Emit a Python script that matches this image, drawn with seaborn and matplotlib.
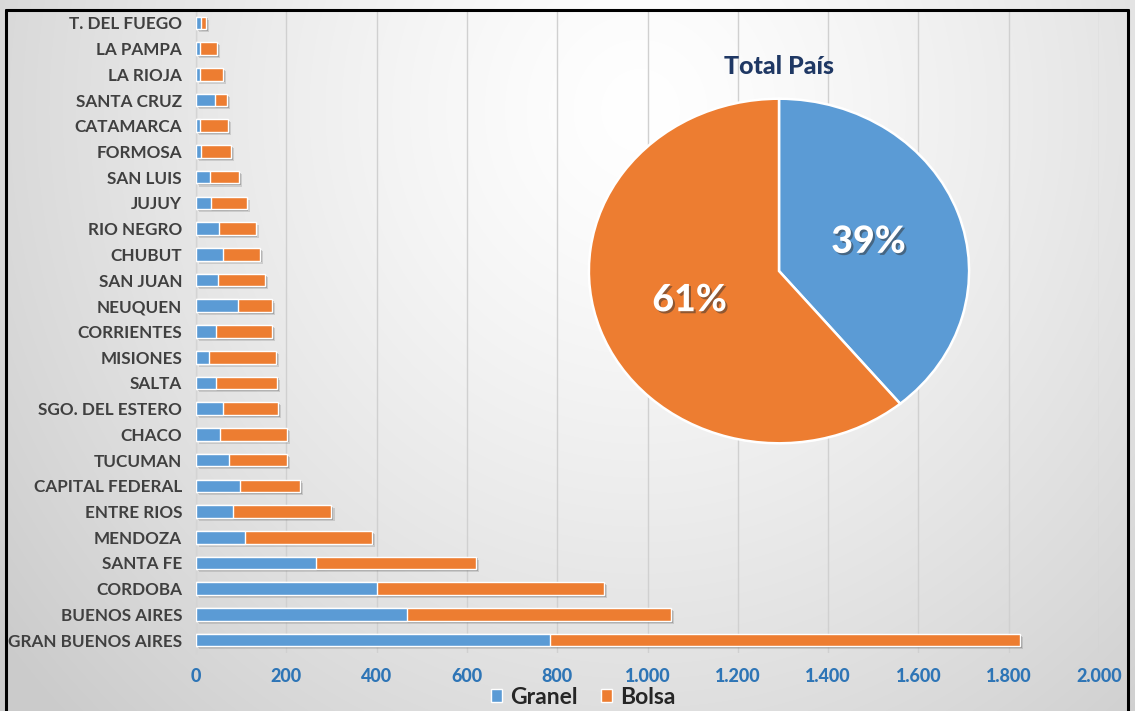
import numpy as np
import pandas as pd
import matplotlib
matplotlib.use("Agg")
import matplotlib.pyplot as plt
import matplotlib.patheffects as pe
from matplotlib.patches import Patch
from matplotlib.lines import Line2D
import seaborn as sns

# Provinces, top to bottom
provincias = [
    "T. DEL FUEGO", "LA PAMPA", "LA RIOJA", "SANTA CRUZ", "CATAMARCA",
    "FORMOSA", "SAN LUIS", "JUJUY", "RIO NEGRO", "CHUBUT", "SAN JUAN",
    "NEUQUEN", "CORRIENTES", "MISIONES", "SALTA", "SGO. DEL ESTERO",
    "CHACO", "TUCUMAN", "CAPITAL FEDERAL", "ENTRE RIOS", "MENDOZA",
    "SANTA FE", "CORDOBA", "BUENOS AIRES", "GRAN BUENOS AIRES",
]
granel = [10, 8, 9, 42, 8, 11, 32, 34, 51, 60, 49, 92, 44, 29, 44, 60,
          54, 72, 97, 83, 108, 265, 400, 467, 785]
bolsa = [12, 38, 51, 26, 63, 67, 64, 78, 81, 82, 104, 77, 125, 148, 135,
         121, 147, 129, 133, 217, 282, 355, 504, 585, 1040]

# Country-wide share
pie_labels = ["Granel", "Bolsa"]
pie_share = [39, 61]

x_ticks = list(range(0, 2001, 200))
x_tick_labels = [f"{v:,}".replace(",", ".") for v in x_ticks]

BLUE = "#5B9BD5"
ORANGE = "#ED7D31"
W, H = 1135, 711

sns.set_theme(style="white")
plt.rcParams["font.family"] = ["Lato", "DejaVu Sans"]

fig = plt.figure(figsize=(W / 100, H / 100), dpi=100)

# soft gray background gradient
bg = fig.add_axes([0, 0, 1, 1], zorder=-10)
yy, xx = np.mgrid[0:H, 0:W]
dx = (xx - 640) / 680.0
dy = (yy - 110) / 720.0
d = np.clip(np.sqrt(dx ** 2 + dy ** 2), 0, 1.2)
gray = 1.0 - 0.16 * d ** 1.3
bg.imshow(np.dstack([gray, gray, gray]), extent=[0, W, H, 0], aspect="auto")
bg.set_axis_off()


def fx(px):
    return px / W


def fy(py):
    return 1 - py / H


# stacked horizontal bars
ax = fig.add_axes([fx(196), fy(653), fx(1099) - fx(196), fy(10) - fy(653)])
ax.set_facecolor("none")
df = pd.DataFrame({"provincia": provincias, "granel": granel, "bolsa": bolsa})
df["total"] = df["granel"] + df["bolsa"]

sns.barplot(data=df, y="provincia", x="total", color=ORANGE, saturation=1,
            width=0.49, orient="h", order=provincias, ax=ax, zorder=3)
n_orange = len(ax.patches)
for p in ax.patches:
    p.set_path_effects([
        pe.SimplePatchShadow(offset=(2.2, -2.2), shadow_rgbFace="#777777", alpha=0.25),
        pe.SimplePatchShadow(offset=(1.3, -1.3), shadow_rgbFace="#555555", alpha=0.35),
        pe.Normal()])
sns.barplot(data=df, y="provincia", x="granel", color=BLUE, saturation=1,
            width=0.49, orient="h", order=provincias, ax=ax, zorder=4)
for p in ax.patches[n_orange:]:
    p.set_zorder(4)

ax.set_xlim(0, 2000)
ax.set_xticks(x_ticks)
ax.set_xticklabels(x_tick_labels)
ax.set_xlabel("")
ax.set_ylabel("")
ax.grid(axis="x", color="#d0d0d0", linewidth=1.0, zorder=0)
ax.set_axisbelow(True)
for s in ["top", "right", "bottom"]:
    ax.spines[s].set_visible(False)
ax.spines["left"].set_color("#d4d4d4")
ax.spines["left"].set_linewidth(1.0)
ax.tick_params(axis="x", length=0, pad=11, colors="#2E75B6", labelsize=13)
ax.tick_params(axis="y", length=0, pad=10, colors="#404040", labelsize=12.3)
for t in ax.get_xticklabels():
    t.set_fontweight("black")
for t in ax.get_yticklabels():
    t.set_fontweight("bold")

# pie of national totals
pax = fig.add_axes([fx(587), fy(445), fx(971) - fx(587), fy(97) - fy(445)])
wedges, texts, autotexts = pax.pie(
    pie_share, colors=[BLUE, ORANGE], startangle=90, counterclock=False,
    autopct=lambda p: f"{p:.0f}%", pctdistance=0.5,
    wedgeprops=dict(edgecolor="white", linewidth=1.8),
)
for t in autotexts:
    t.set_color("white")
    t.set_fontsize(27)
    t.set_fontweight("black")
    t.set_path_effects([pe.withSimplePatchShadow(offset=(1.5, -1.5), shadow_rgbFace="#333333", alpha=0.5)])
pax.set_aspect("auto")
pax.set_xlim(-1.01, 1.01)
pax.set_ylim(-1.01, 1.01)
pax.set_axis_off()

fig.text(fx(779), fy(66), "Total País", ha="center", va="center",
         fontsize=18, fontweight="black", color="#1F3864")

# legend
handles = [Patch(facecolor=BLUE, label=pie_labels[0]),
           Patch(facecolor=ORANGE, label=pie_labels[1])]
leg = fig.legend(handles=handles, loc="center", bbox_to_anchor=(fx(583), fy(697)),
                 ncol=2, frameon=False, handlelength=0.5, handleheight=0.5,
                 handletextpad=0.35, columnspacing=1.0,
                 prop={"weight": "bold", "size": 16.5})
for t in leg.get_texts():
    t.set_color("#262626")

# outer frame
for xs, ys in [([6, 6], [10, H]), ([6, 1128], [10, 10]), ([1128, 1128], [10, H])]:
    fig.add_artist(Line2D([fx(x) for x in xs], [fy(y) for y in ys], color="black",
                          linewidth=2.2, transform=fig.transFigure))

fig.savefig("out.png", dpi=100)
